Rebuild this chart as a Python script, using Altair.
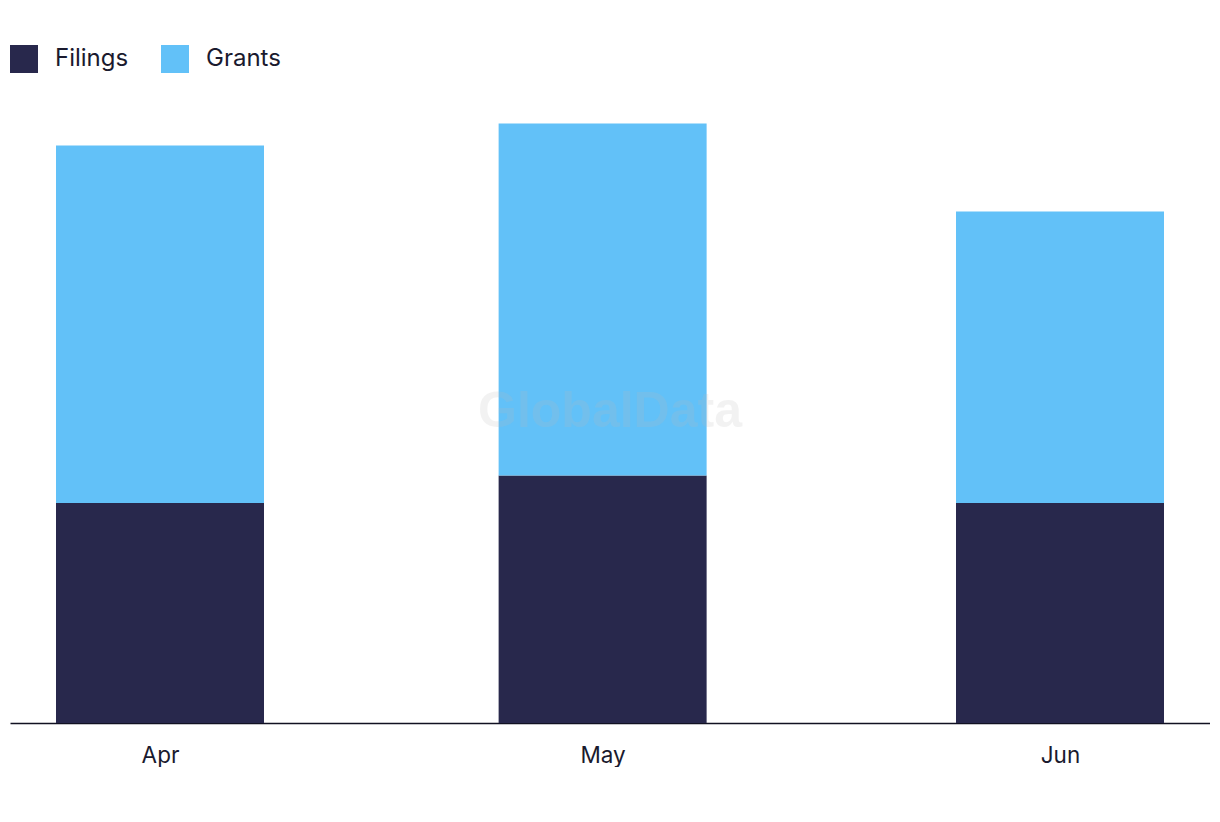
import altair as alt
import pandas as pd

months = ["2023-04-01", "2023-05-01", "2023-06-01"]
filings = [40, 45, 40]
grants = [65, 64, 53]
series = ["Filings", "Grants"]
colors = ["#28284c", "#62c1f8"]

rows = []
for m, f, g in zip(months, filings, grants):
    rows.append({"month": m, "series": "Filings", "value": f, "ord": 0})
    rows.append({"month": m, "series": "Grants", "value": g, "ord": 1})
df = pd.DataFrame(rows)

x_domain = [{"year": 2023, "month": 3, "date": 21, "hours": 20, "utc": True},
            {"year": 2023, "month": 6, "date": 11, "hours": 4, "utc": True}]

bars = alt.Chart(df).mark_bar(size=208).encode(
    x=alt.X("month:T",
            scale=alt.Scale(type="utc", domain=x_domain, padding=0),
            axis=alt.Axis(title=None, labelExpr="utcFormat(datum.value, '%b')",
                          values=[{"year": 2023, "month": m, "date": 1, "utc": True} for m in (4, 5, 6)],
                          ticks=False, grid=False, domainColor="#111122", domainWidth=1.5,
                          labelFontSize=22.5, labelColor="#1a1a2e", labelPadding=21,
                          labelFont="Inter")),
    y=alt.Y("value:Q", stack="zero", scale=alt.Scale(domain=[0, 130], nice=False),
            axis=None),
    color=alt.Color("series:N", scale=alt.Scale(domain=series, range=colors),
                    legend=alt.Legend(title=None, orient="none", legendX=0, legendY=37,
                                      direction="horizontal", symbolType="square",
                                      symbolSize=784, symbolStrokeWidth=0, symbolOpacity=1,
                                      labelFontSize=24, labelFont="Inter", labelColor="#1a1a2e",
                                      labelOffset=17, columnPadding=32)),
    order=alt.Order("ord:Q"),
)

wm = alt.Chart(pd.DataFrame({"t": ["GlobalData"]})).mark_text(
    font="Liberation Sans", fontWeight="bold", fontSize=50, color="#bbbbbb", opacity=0.18
).encode(text="t:N", x=alt.value(600), y=alt.value(404))

chart = alt.layer(bars, wm).properties(
    width=1200, height=715, background="white",
    padding={"left": 2, "top": 0, "right": 0, "bottom": 0},
).configure_view(stroke=None)

chart.save("out.html", embed_options={"renderer": "svg", "actions": False})
